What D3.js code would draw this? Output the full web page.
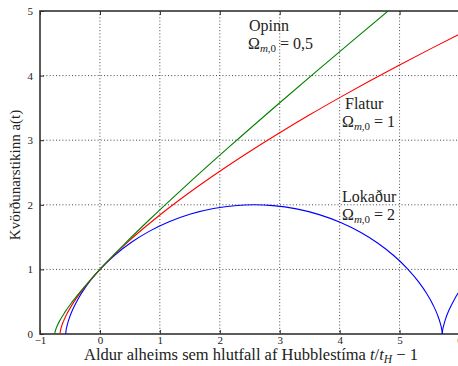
<!DOCTYPE html>
<html><head><meta charset="utf-8">
<script src="https://cdn.jsdelivr.net/npm/d3@7"></script>
<style>
html,body{margin:0;padding:0;background:#fff;}
text{font-family:"Liberation Serif","DejaVu Serif",serif;fill:#222;}
</style></head>
<body><svg id="c" width="458" height="366"></svg>
<script>
// Tick labels
const xTicks = [-1, 0, 1, 2, 3, 4, 5, 6];
const yTicks = [0, 1, 2, 3, 4, 5];

// Open universe, Omega_m,0 = 0.5 (green)
const openX = [-0.7536, -0.7504, -0.7387, -0.7122, -0.6641, -0.5870, -0.4719, -0.3086, -0.2052, 0, 0.2138, 0.3968, 0.8424, 1.4146, 2.1418, 3.0591, 3.6019, 4.2088, 4.8866];
const openA = [0, 0.0227, 0.0638, 0.1276, 0.2165, 0.3343, 0.4855, 0.6762, 0.7887, 1, 1.2089, 1.3811, 1.7840, 2.2785, 2.8845, 3.6264, 4.0573, 4.5338, 5.0608];

// Flat universe, Omega_m,0 = 1 (red)
const flatX = [-0.6667, -0.66, -0.65, -0.64, -0.62, -0.6, -0.55, -0.5, -0.4, -0.3, -0.2, -0.1, 0, 0.25, 0.5, 1, 1.5, 2, 2.5, 3, 3.5, 4, 4.5, 5, 5.5, 6];
const flatA = [0, 0.0464, 0.0855, 0.117, 0.170, 0.2154, 0.3129, 0.3969, 0.5429, 0.6713, 0.7884, 0.8973, 1, 1.2365, 1.4522, 1.842, 2.194, 2.5198, 2.8256, 3.1158, 3.393, 3.659, 3.916, 4.165, 4.406, 4.6416];

// Closed universe, Omega_m,0 = 2 (blue), first cycle
const closedX = [-0.5708, -0.5663, -0.5502, -0.5150, -0.4541, -0.3620, -0.2344, 0, 0.2554, 0.5199, 0.8207, 1.1537, 1.5137, 1.8942, 2.2881, 2.5708, 2.8870, 3.2800, 3.6590, 4.0170, 4.3475, 4.6454, 4.9067, 5.1291, 5.3117, 5.4550, 5.5615, 5.6347, 5.6799, 5.7031, 5.7114, 5.7124];
const closedA = [0, 0.0447, 0.1224, 0.2352, 0.3784, 0.5464, 0.7325, 1, 1.2272, 1.4161, 1.5885, 1.7374, 1.8569, 1.9422, 1.9900, 2, 1.9875, 1.9365, 1.8481, 1.7259, 1.5748, 1.4008, 1.2108, 1.0124, 0.8135, 0.6220, 0.4456, 0.2913, 0.1653, 0.0725, 0.0183, 0];
// Closed universe, second cycle
const closed2X = [5.7124, 5.7169, 5.7330, 5.7682, 5.8291, 5.9212, 6.0488];
const closed2A = [0, 0.0447, 0.1224, 0.2352, 0.3784, 0.5464, 0.7325];

const svg = d3.select("#c");
const L = 40, R = 459.5, T = 11, B = 334;
const x = d3.scaleLinear().domain([-1, 6]).range([L, R]);
const y = d3.scaleLinear().domain([0, 5]).range([B, T]);

svg.append("defs").append("clipPath").attr("id","clip")
  .append("rect").attr("x", L).attr("y", T).attr("width", R - L).attr("height", B - T);

// grid
const grid = svg.append("g").attr("stroke", "#333").attr("stroke-width", 0.9).attr("stroke-dasharray", "1,2.2");
xTicks.slice(1, -1).forEach(v => grid.append("line").attr("x1", x(v)).attr("x2", x(v)).attr("y1", T).attr("y2", B));
yTicks.slice(1, -1).forEach(v => grid.append("line").attr("x1", L).attr("x2", R).attr("y1", y(v)).attr("y2", y(v)));

// axes with inward ticks
const fmt = d => d < 0 ? "\u2212" + Math.abs(d) : String(d);
const xa = svg.append("g").attr("transform", `translate(0,${B})`)
  .call(d3.axisBottom(x).tickValues(xTicks).tickSizeInner(-4).tickSizeOuter(0).tickPadding(2.5).tickFormat(fmt));
const xt = svg.append("g").attr("transform", `translate(0,${T})`)
  .call(d3.axisTop(x).tickValues(xTicks).tickSizeInner(-4).tickSizeOuter(0).tickFormat(""));
const ya = svg.append("g").attr("transform", `translate(${L},0)`)
  .call(d3.axisLeft(y).tickValues(yTicks).tickSizeInner(-4).tickSizeOuter(0).tickPadding(7).tickFormat(fmt));
[xa, xt, ya].forEach(g => {
  g.select(".domain").remove();
  g.selectAll(".tick line").attr("stroke", "#222").attr("stroke-width", 1);
  g.selectAll(".tick text").attr("font-size", 11).attr("font-family", "Liberation Serif, serif").attr("fill", "#333");
});

// frame
svg.append("rect").attr("x", L).attr("y", T).attr("width", R - L).attr("height", B - T)
  .attr("fill", "none").attr("stroke", "#333").attr("stroke-width", 1.6);

// curves
const line = d3.line().x(d => x(d[0])).y(d => y(d[1])).curve(d3.curveMonotoneX);
const series = [
  {xs: closedX, as: closedA, color: "#0000ff"},
  {xs: closed2X, as: closed2A, color: "#0000ff"},
  {xs: flatX, as: flatA, color: "#ff0000"},
  {xs: openX, as: openA, color: "#008000"}
];
const cg = svg.append("g").attr("clip-path", "url(#clip)");
series.forEach(s => {
  cg.append("path").datum(s.xs.map((v, i) => [v, s.as[i]]))
    .attr("d", line).attr("fill", "none").attr("stroke", s.color).attr("stroke-width", 1.1);
});

// annotations
function omegaLabel(px, py, val) {
  const t = svg.append("text").attr("x", px).attr("y", py).attr("font-size", 16);
  t.append("tspan").text("\u03A9");
  t.append("tspan").attr("font-size", 11).attr("dy", 3).attr("font-style", "italic").text("m");
  t.append("tspan").attr("font-size", 11).text(",0");
  t.append("tspan").attr("dy", -3).text(" = " + val);
}
svg.append("text").attr("x", 249).attr("y", 31).attr("font-size", 16).text("Opinn");
omegaLabel(248, 49, "0,5");
svg.append("text").attr("x", 345).attr("y", 109).attr("font-size", 16).text("Flatur");
omegaLabel(342, 127, "1");
svg.append("text").attr("x", 342).attr("y", 202).attr("font-size", 16).text("Lokaður");
omegaLabel(342, 220, "2");

// axis titles
const xl = svg.append("text").attr("x", 251).attr("y", 360).attr("text-anchor", "middle").attr("font-size", 16.5);
xl.append("tspan").text("Aldur alheims sem hlutfall af Hubblestíma ");
xl.append("tspan").attr("font-style", "italic").text("t");
xl.append("tspan").text("/");
xl.append("tspan").attr("font-style", "italic").text("t");
xl.append("tspan").attr("font-style", "italic").attr("font-size", 11.5).attr("dy", 2.5).text("H");
xl.append("tspan").attr("dy", -2.5).text(" \u2212 1");

svg.append("text").attr("transform", "translate(20,175) rotate(-90)")
  .attr("text-anchor", "middle").attr("font-size", 15).text("Kvörðunarstikinn a(t)");
</script></body></html>
